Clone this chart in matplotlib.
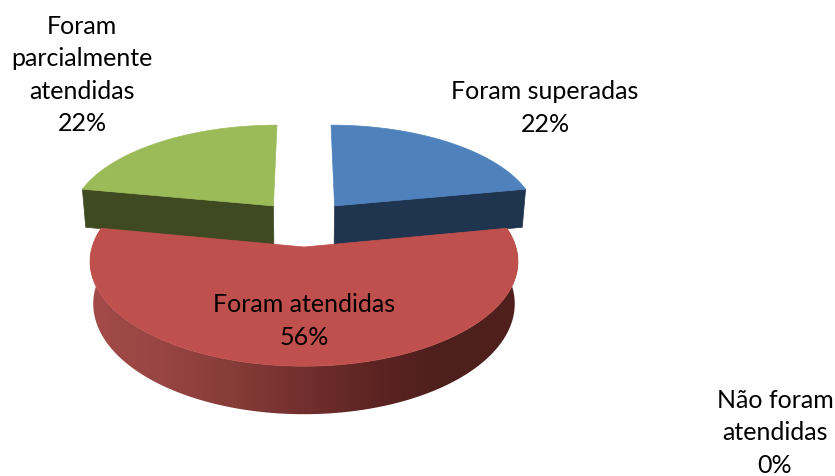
# -*- coding: utf-8 -*-
"""Exploded 3D-look pie chart, drawn with a small perspective projection."""

import numpy as np
import matplotlib
matplotlib.use("Agg")
import matplotlib.pyplot as plt
from matplotlib.colors import LinearSegmentedColormap
from matplotlib.patches import Polygon

plt.rcParams["font.family"] = ["Lato", "DejaVu Sans"]

# data
categories = ["Foram superadas", "Foram atendidas", "Não foram\natendidas", "Foram\nparcialmente\natendidas"]
values = [22, 56, 0, 22]
top_colors = ["#4F81BD", "#C0504D", "#8064A2", "#9BBB59"]
side_colors = ["#1F344F", "#C0504D", "#33284A", "#3F4A23"]
label_pos = [(545, 108), (304, 321), (775, 433), (82, 75)]

# projection of the pie plane to pixels
CX, AY = 304.0, 223.2
R, B, K = 205.0, 96.0, 0.135
EXPLODE = 0.24
DEPTH = 40.0
SHRINK = 0.985

fig = plt.figure(figsize=(8.35, 4.76), dpi=100)
ax = fig.add_axes([0, 0, 1, 1])
fig.patch.set_facecolor("white")


def project(u, v):
    w = 1 + K * v
    return CX + R * u / w, AY - B * v / w


def lower(u, v):
    x, y = project(u, v)
    return CX + (x - CX) * SHRINK, y + DEPTH / (1 + K * v)


def wedge(start, end):
    mid = np.radians((start + end) / 2)
    du, dv = EXPLODE * np.sin(mid), EXPLODE * np.cos(mid)
    t = np.radians(np.linspace(start, end, 120))
    return du, dv, du + np.sin(t), dv + np.cos(t)


def xy(f, u, v):
    return np.column_stack(f(u, v))


edges = np.cumsum([0] + values) * 3.6
red_gradient = LinearSegmentedColormap.from_list(
    "red_side", ["#A34B48", "#984543", "#863C39", "#722F2D", "#5C2422", "#4D1F1D", "#4F201E"])

# back wedges first, the big one goes on top of them
for i in [0, 3, 1]:
    du, dv, u, v = wedge(edges[i], edges[i + 1])
    if i == 1:
        # outer wall with horizontal shading
        wall = np.vstack([xy(project, u, v), xy(lower, u, v)[::-1]])
        poly = Polygon(wall, closed=True, facecolor="none", edgecolor="none", zorder=3)
        ax.add_patch(poly)
        grad = np.linspace(0, 1, 256).reshape(1, -1)
        im = ax.imshow(grad, cmap=red_gradient, extent=(wall[:, 0].min(), wall[:, 0].max(), 476, 0),
                       aspect="auto", zorder=3)
        im.set_clip_path(poly)
    else:
        # flat cut face towards the viewer
        if i == 0:
            fu, fv = np.array([du, u[-1]]), np.array([dv, v[-1]])
        else:
            fu, fv = np.array([u[0], du]), np.array([v[0], dv])
        face = np.vstack([xy(project, fu, fv), xy(lower, fu, fv)[::-1]])
        ax.add_patch(Polygon(face, closed=True, facecolor=side_colors[i], edgecolor=side_colors[i],
                             linewidth=0.5, zorder=2))
    top = np.vstack([xy(project, np.array([du]), np.array([dv])), xy(project, u, v)])
    ax.add_patch(Polygon(top, closed=True, facecolor=top_colors[i], edgecolor=top_colors[i],
                         linewidth=0.5, zorder=2 if i != 1 else 4))

for name, val, (lx, ly) in zip(categories, values, label_pos):
    ax.text(lx, ly, f"{name}\n{val}%", ha="center", va="center", fontsize=18,
            linespacing=1.48, color="black", zorder=5)

ax.set_xlim(0, 835)
ax.set_ylim(476, 0)
ax.axis("off")

fig.savefig("out.png", dpi=100, facecolor="white")
